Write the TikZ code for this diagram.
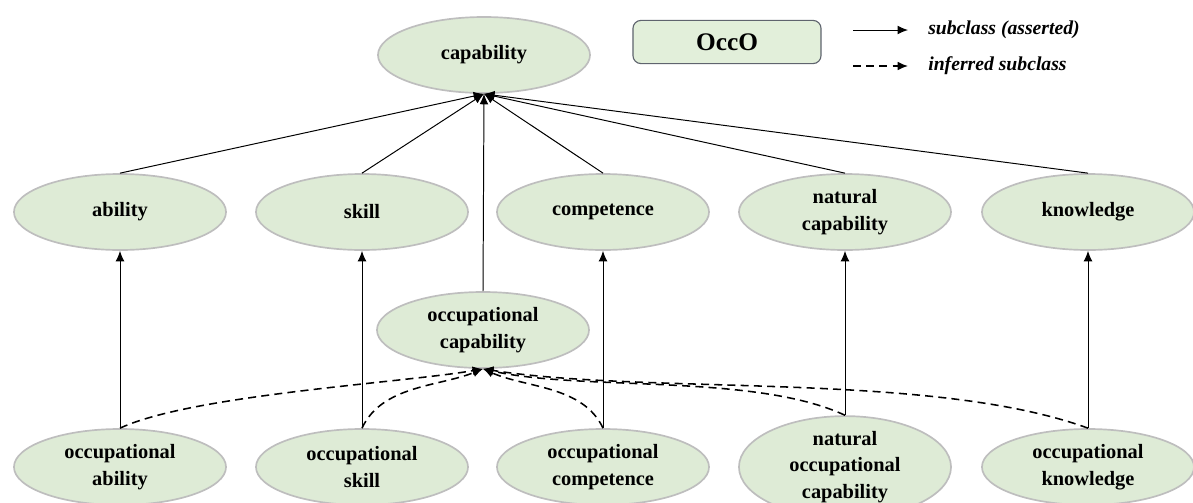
\documentclass[tikz,border=0pt]{standalone}
\usepackage{fontspec}
\setmainfont{Liberation Serif}
\usetikzlibrary{arrows.meta,shapes.geometric,positioning}
\definecolor{classfill}{RGB}{222,235,214}
\definecolor{classline}{RGB}{190,190,190}
\definecolor{boxfill}{RGB}{226,239,218}
\definecolor{boxline}{RGB}{95,100,110}
\tikzset{%
        class/.style = { ellipse, fill=classfill, draw=classline, line width=1.2pt,
                         minimum width=5.3cm, minimum height=1.9cm, align=center,
                         font=\bfseries\fontsize{14.5}{19}\selectfont, inner sep=0pt },
       ontbox/.style = { rounded corners=2mm, fill=boxfill, draw=boxline, line width=0.8pt,
                         minimum width=4.7cm, minimum height=1.08cm,
                         font=\bfseries\fontsize{18}{20}\selectfont },
          isa/.style = { -{Latex[length=2.6mm,width=2.2mm]}, line width=0.7pt },
     inferred/.style = { isa, line width=1.1pt, dash pattern=on 2mm off 1.3mm },
   legendtext/.style = { anchor=west, inner sep=0pt, font=\bfseries\itshape\fontsize{14}{16}\selectfont }
}
\begin{document}
\begin{tikzpicture}[x=0.025cm,y=-0.025cm]
\useasboundingbox (0,0) rectangle (1193,502);
% top class
\node[class] (cap) at (484,55) {capability};
% second row
\node[class] (abil)   at (120,212)  {ability};
\node[class] (skill)  at (362,212)  {skill};
\node[class] (comp)   at (603,212)  {competence};
\node[class] (natcap) at (845,212)  {natural\\capability};
\node[class] (know)   at (1088,212) {knowledge};
\node[class] (occcap) at (483,330)  {occupational\\capability};
% bottom row
\node[class] (occabil)  at (120,467)  {occupational\\ability};
\node[class] (occskill) at (362,467)  {occupational\\skill};
\node[class] (occcomp)  at (603,467)  {occupational\\competence};
\node[class] (natocc)   at (845,467)  {natural\\occupational\\capability};
\node[class] (occknow)  at (1088,467) {occupational\\knowledge};
% legend
\node[ontbox] (occo) at (727,42) {OccO};
\coordinate (assA) at (853,30);  \coordinate (assB) at (908,30);
\coordinate (infA) at (853,66);  \coordinate (infB) at (908,66);
\draw[isa] (assA) -- (assB);
\draw[inferred] (infA) -- (infB);
\node[legendtext] (asserted) at (928,30) {subclass (asserted)};
\node[legendtext] (inferredtxt) at (928,66) {inferred subclass};
% asserted subclasses
\foreach \n in {abil,skill,comp,natcap,know,occcap}
  \draw[isa] (\n.north) -- (cap.south);
\draw[isa] (occabil.north)  -- (abil.south);
\draw[isa] (occskill.north) -- (skill.south);
\draw[isa] (occcomp.north)  -- (comp.south);
\draw[isa] (natocc.north)   -- (natcap.south);
\draw[isa] (occknow.north)  -- (know.south);
% inferred subclasses
\draw[inferred] (occabil.north)  to[out=25,in=-170,looseness=0.55] (occcap.south);
\draw[inferred] (occskill.north) to[out=65,in=-158,looseness=0.9]  (occcap.south);
\draw[inferred] (occcomp.north)  to[out=115,in=-24,looseness=0.9]  (occcap.south);
\draw[inferred] (natocc.north)   to[out=155,in=-13,looseness=0.7]  (occcap.south);
\draw[inferred] (occknow.north)  to[out=160,in=-9,looseness=0.7]   (occcap.south);
\end{tikzpicture}
\end{document}
